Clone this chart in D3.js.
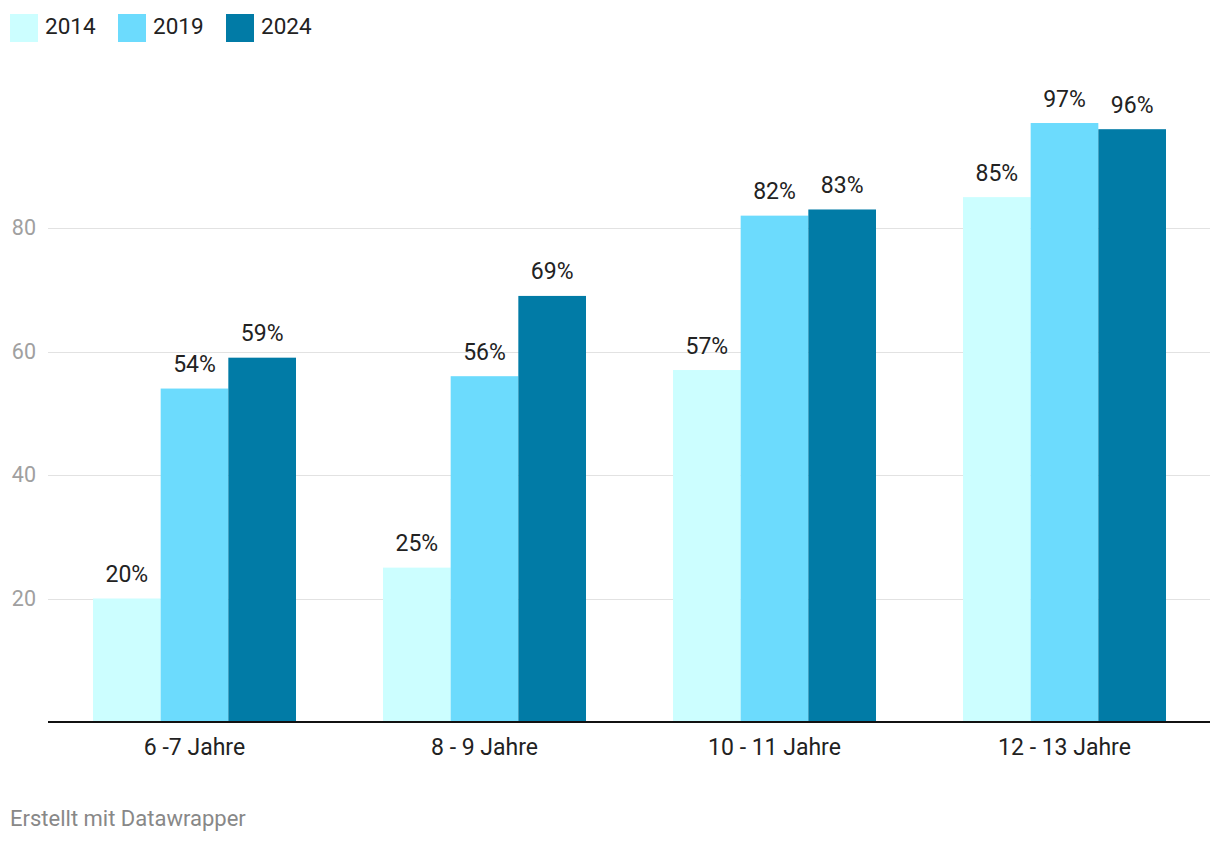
<!DOCTYPE html>
<html><head><meta charset="utf-8">
<script src="https://cdn.jsdelivr.net/npm/d3@7"></script>
<style>body{margin:0;background:#fff;font-family:Roboto,sans-serif;}</style>
</head><body>
<svg id="c" width="1220" height="844"></svg>
<script>
const categories = ["6 -7 Jahre", "8 - 9 Jahre", "10 - 11 Jahre", "12 - 13 Jahre"];
const seriesNames = ["2014", "2019", "2024"];
const values2014 = [20, 25, 57, 85];
const values2019 = [54, 56, 82, 97];
const values2024 = [59, 69, 83, 96];
const yTicks = [20, 40, 60, 80];
const colors = ["#ccfeff", "#6cdbfd", "#017ba6"];

const seriesValues = [values2014, values2019, values2024];
const svg = d3.select("#c");
const x0 = d3.scaleBand().domain(categories).range([49.5, 1209.5]).paddingInner(0.3).paddingOuter(0.15);
const x1 = d3.scaleBand().domain(seriesNames).range([0, x0.bandwidth()]);
const y = d3.scaleLinear().domain([0, 100]).range([722, 104.5]);

// gridlines
svg.append("g").selectAll("line").data(yTicks).join("line")
  .attr("x1", 48).attr("x2", 1210)
  .attr("y1", d => Math.round(y(d)) + 0.5).attr("y2", d => Math.round(y(d)) + 0.5)
  .attr("stroke", "#e2e2e2").attr("stroke-width", 1);
svg.append("g").selectAll("text").data(yTicks).join("text")
  .attr("x", 36).attr("y", d => y(d) + 7)
  .attr("text-anchor", "end").attr("font-size", 21.5).attr("fill", "#a0a0a0")
  .text(d => d);

// bars
const groups = svg.append("g").selectAll("g").data(categories).join("g")
  .attr("transform", c => `translate(${x0(c)},0)`);
groups.each(function(c, i) {
  const g = d3.select(this);
  seriesNames.forEach((s, j) => {
    const v = seriesValues[j][i];
    g.append("rect").attr("x", x1(s)).attr("width", x1.bandwidth())
      .attr("y", y(v)).attr("height", y(0) - y(v)).attr("fill", colors[j]);
    g.append("text").attr("x", x1(s) + x1.bandwidth() / 2).attr("y", y(v) - 16.5)
      .attr("text-anchor", "middle").attr("font-size", 23).attr("fill", "#222")
      .text(v + "%");
  });
});

// baseline
svg.append("line").attr("x1", 48).attr("x2", 1210).attr("y1", 722).attr("y2", 722)
  .attr("stroke", "#111").attr("stroke-width", 2);

// category labels
svg.append("g").selectAll("text").data(categories).join("text")
  .attr("x", c => x0(c) + x0.bandwidth() / 2).attr("y", 754.5)
  .attr("text-anchor", "middle").attr("font-size", 23).attr("fill", "#222")
  .text(c => c);

// legend
const legX = [10, 118, 226];
const leg = svg.append("g").selectAll("g").data(seriesNames).join("g")
  .attr("transform", (d, i) => `translate(${legX[i]},14)`);
leg.append("rect").attr("width", 28).attr("height", 28).attr("fill", (d, i) => colors[i]);
leg.append("text").attr("x", 35).attr("y", 19.5).attr("font-size", 22.5).attr("fill", "#222").text(d => d);

// footer
svg.append("text").attr("x", 10).attr("y", 826).attr("font-size", 22).attr("fill", "#888")
  .text("Erstellt mit Datawrapper");
</script>
</body></html>
